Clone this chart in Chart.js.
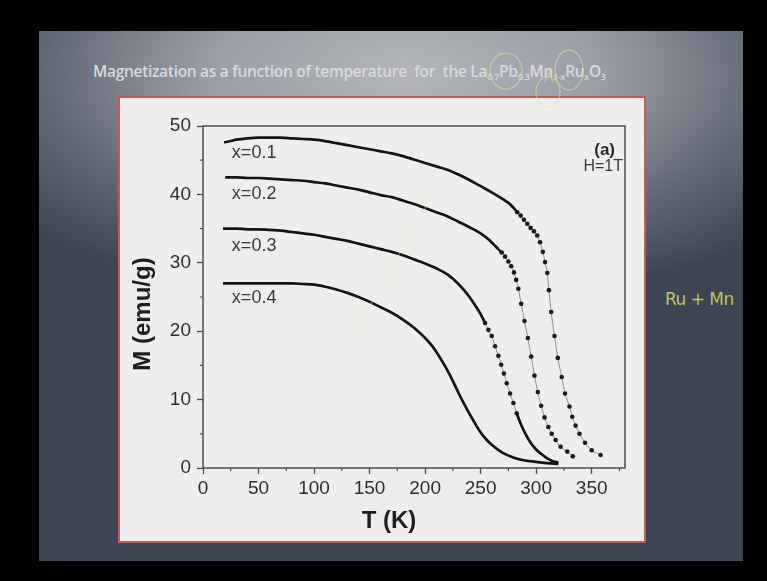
<!DOCTYPE html>
<html>
<head>
<meta charset="UTF-8">
<title>Magnetization vs temperature</title>
<script src="https://cdn.jsdelivr.net/npm/chart.js"></script>
<style>
  html, body { margin: 0; padding: 0; background: #000; width: 767px; height: 581px; overflow: hidden; }
  #slide {
    position: absolute; left: 39px; top: 31px; width: 704px; height: 530px; overflow: hidden;
    background: radial-gradient(ellipse 72% 44% at 52% 8%, #b2b4b8 0%, #9a9ea5 38%, #616775 72%, #3e4555 100%), #3a4151;
  }
  #title {
    position: absolute; left: 54px; top: 29px; white-space: nowrap;
    font-family: "Open Sans", sans-serif; font-weight: 600; font-size: 15.5px; color: #d8dadd;
    letter-spacing: -0.3px;
  }
  #title sub { font-size: 9px; vertical-align: -3px; }
  #panel {
    position: absolute; left: 79px; top: 65px; width: 528px; height: 447px; box-sizing: border-box;
    background: #eeefec; border: 2px solid #c65a55;
  }
  #note {
    position: absolute; left: 626px; top: 258px; white-space: nowrap;
    font-family: "DejaVu Sans", sans-serif; font-size: 17px; color: #b9c65c; letter-spacing: -0.5px;
  }
  canvas, svg { position: absolute; left: 0; top: 0; }
</style>
</head>
<body>
<div id="slide">
  <div id="title">Magnetization as a function of temperature&nbsp; for&nbsp; the La<sub>0.7</sub>Pb<sub>0.3</sub>Mn<sub>1-x</sub>Ru<sub>x</sub>O<sub>3</sub></div>
  <div id="panel"></div>
  <div id="note">Ru + Mn</div>
</div>
<canvas id="magChart" width="767" height="581"></canvas>
<!-- faint pen marks drawn over the slide -->
<svg width="767" height="581" fill="none" stroke="#e4e79a" stroke-width="1.3" opacity="0.5">
  <ellipse cx="506" cy="71" rx="16" ry="18"/>
  <ellipse cx="569" cy="70" rx="14" ry="20"/>
  <ellipse cx="548" cy="92" rx="12" ry="15"/>
  <path d="M545 82 L549 72 L553 82"/>
  <path d="M432 196 L352 338 M352 338 L356 318 M352 338 L372 326" stroke="#e8eac0" opacity="0.8"/>
</svg>

<script>
// data: T in K, M in emu/g
const seriesNames = ['x=0.1', 'x=0.2', 'x=0.3', 'x=0.4'];

const tempX01 = [19, 25, 30, 40, 50, 60, 70, 80, 90, 100, 110, 120, 130, 140, 150, 160, 170, 180, 190, 200, 210, 220, 230, 240, 250, 260, 270,
                 277, 283, 286, 289, 292, 295, 298, 301, 303.5, 306, 308, 310, 311.5, 313.5, 316.5, 319.5, 323, 326, 330, 332.5, 335.5, 339, 344, 350, 358];
const magX01  = [47.6, 47.8, 48.0, 48.2, 48.3, 48.3, 48.3, 48.2, 48.1, 48.0, 47.8, 47.5, 47.2, 46.9, 46.6, 46.3, 46.0, 45.6, 45.1, 44.6, 44.1, 43.6, 42.9, 42.1, 41.2, 40.3, 39.3,
                 38.5, 37.4, 36.9, 36.3, 35.7, 35.1, 34.6, 34.0, 33.0, 31.6, 30.1, 28.5, 26.0, 22.8, 19.3, 16.1, 13.3, 10.9, 9.0, 7.5, 6.2, 5.0, 3.7, 2.6, 1.9];

const tempX02 = [20, 30, 40, 50, 60, 70, 80, 90, 100, 110, 120, 130, 140, 150, 160, 170, 180, 190, 200, 210, 220, 230, 240, 250,
                 258, 264, 269, 272, 275, 277.5, 280, 282, 284, 286.5, 289.5, 292.5, 295.5, 298.5, 301.5, 304.5, 307.5, 311, 314, 317.5, 322, 328, 333];
const magX02  = [42.5, 42.5, 42.4, 42.4, 42.3, 42.2, 42.1, 42.0, 41.8, 41.6, 41.3, 41.0, 40.7, 40.3, 39.9, 39.6, 39.1, 38.6, 38.0, 37.4, 36.8, 36.0, 35.2, 34.3,
                 33.3, 32.3, 31.5, 30.9, 30.2, 29.5, 28.6, 27.5, 26.2, 24.0, 21.5, 19.0, 16.3, 13.5, 11.1, 9.1, 7.4, 6.0, 5.0, 4.1, 3.1, 2.4, 1.7];

const tempX03 = [18, 30, 40, 50, 60, 70, 80, 90, 100, 110, 120, 130, 140, 150, 160, 170, 180, 190, 200, 210, 220, 230, 240,
                 245, 250, 254, 257, 260, 263, 266, 268.5, 271, 273.5, 276.5, 279.5, 282.5, 286, 290, 295, 300, 305, 310, 315, 320];
const magX03  = [35.0, 35.0, 34.9, 34.9, 34.8, 34.7, 34.5, 34.3, 34.1, 33.8, 33.5, 33.2, 32.8, 32.4, 32.0, 31.6, 31.1, 30.5, 29.9, 29.2, 28.3, 26.9, 25.0,
                 23.8, 22.5, 21.2, 20.2, 19.3, 17.8, 16.4, 15.1, 13.8, 12.4, 10.9, 9.5, 8.0, 6.5, 5.1, 3.7, 2.7, 2.0, 1.4, 1.0, 0.8];

const tempX04 = [18, 30, 40, 50, 60, 70, 80, 90, 100, 110, 120, 130, 140, 150, 160, 170, 180, 190, 200,
                 205, 210, 215, 220, 225, 230, 235, 240, 245, 250, 255, 260, 270, 280, 290, 300, 310, 320];
const magX04  = [27.0, 27.0, 27.0, 27.0, 27.0, 27.0, 27.0, 26.9, 26.8, 26.5, 26.1, 25.6, 25.0, 24.3, 23.5, 22.7, 21.7, 20.5, 19.0,
                 18.1, 17.0, 15.7, 14.3, 12.7, 11.0, 9.4, 7.9, 6.5, 5.2, 4.2, 3.4, 2.2, 1.5, 1.1, 0.9, 0.7, 0.6];

const xTicks = [0, 50, 100, 150, 200, 250, 300, 350];
const yTicks = [0, 10, 20, 30, 40, 50];
const xMinor = [25, 75, 125, 175, 225, 275, 325, 375];
const yMinor = [5, 15, 25, 35, 45];

// T ranges where the measured points are far apart and show up as dots
const sparseRanges = [[282, 361], [266, 340], [252, 284], null];

function makeSeries(temps, mags, i) {
    const range = sparseRanges[i];
    const sparse = t => range && t >= range[0] && t <= range[1];
    return {
        label: seriesNames[i],
        data: temps.map((t, k) => ({ x: t, y: mags[k] })),
        showLine: true,
        borderColor: '#141414',
        backgroundColor: '#1c1c1c',
        borderWidth: 2.7,
        cubicInterpolationMode: 'monotone',
        pointRadius: ctx => (ctx.raw && sparse(ctx.raw.x)) ? 2.3 : 0,
        pointBorderWidth: 0,
        segment: {
            borderWidth: ctx => (sparse(ctx.p0.parsed.x) && sparse(ctx.p1.parsed.x)) ? 0.8 : 2.7,
            borderColor: ctx => (sparse(ctx.p0.parsed.x) && sparse(ctx.p1.parsed.x)) ? '#7a7a7a' : '#141414'
        }
    };
}

const decor = {
    id: 'decor',
    afterDraw(chart) {
        const ctx = chart.ctx, a = chart.chartArea;
        const xs = chart.scales.x, ys = chart.scales.y;
        ctx.save();
        // frame
        ctx.strokeStyle = '#4d4d4d';
        ctx.lineWidth = 1.5;
        ctx.strokeRect(a.left, a.top, a.right - a.left, a.bottom - a.top);
        // minor ticks
        ctx.lineWidth = 1.2;
        ctx.beginPath();
        xMinor.forEach(v => { const p = xs.getPixelForValue(v); ctx.moveTo(p, a.bottom); ctx.lineTo(p, a.bottom + 3); });
        yMinor.forEach(v => { const p = ys.getPixelForValue(v); ctx.moveTo(a.left - 3, p); ctx.lineTo(a.left, p); });
        ctx.stroke();

        // axis titles
        ctx.fillStyle = '#1e1e1e';
        ctx.font = 'bold 24px "Liberation Sans", Arial, sans-serif';
        ctx.textAlign = 'center';
        ctx.textBaseline = 'middle';
        ctx.fillText('T (K)', 389, 521);
        ctx.translate(143, 314);
        ctx.rotate(-Math.PI / 2);
        ctx.fillText('M (emu/g)', 0, 0);
        ctx.setTransform(1, 0, 0, 1, 0, 0);

        // series labels
        const labelAt = [[26, 46.0], [26, 40.0], [26, 32.4], [26, 24.8]];
        ctx.font = '18px "Liberation Sans", Arial, sans-serif';
        ctx.fillStyle = '#383838';
        ctx.textAlign = 'left';
        seriesNames.forEach((n, i) => {
            ctx.fillText(n, xs.getPixelForValue(labelAt[i][0]), ys.getPixelForValue(labelAt[i][1]));
        });

        // panel tag
        ctx.textAlign = 'right';
        ctx.font = 'bold 17px "Liberation Sans", Arial, sans-serif';
        ctx.fillStyle = '#2a2a2a';
        ctx.fillText('(a)', 615, 150);
        ctx.font = '16px "Liberation Sans", Arial, sans-serif';
        ctx.fillStyle = '#3a3a3a';
        ctx.fillText('H=1T', 623, 167);
        ctx.restore();
    }
};

const tickFont = { family: '"Liberation Sans", Arial, sans-serif', size: 19 };

new Chart(document.getElementById('magChart').getContext('2d'), {
    type: 'scatter',
    data: {
        datasets: [
            makeSeries(tempX01, magX01, 0),
            makeSeries(tempX02, magX02, 1),
            makeSeries(tempX03, magX03, 2),
            makeSeries(tempX04, magX04, 3)
        ]
    },
    options: {
        responsive: false,
        animation: false,
        devicePixelRatio: 1,
        layout: { padding: { left: 0, top: 126, right: 142, bottom: 0 } },
        plugins: { legend: { display: false }, tooltip: { enabled: false } },
        scales: {
            x: {
                type: 'linear', min: 0, max: 380,
                afterBuildTicks: s => { s.ticks = xTicks.map(v => ({ value: v })); },
                afterFit: s => { s.height = 113; },
                ticks: { font: tickFont, color: '#2e2e2e', padding: 3, maxRotation: 0 },
                grid: { drawOnChartArea: false, tickLength: 6, tickColor: '#4d4d4d', tickWidth: 1.3 },
                border: { display: false }
            },
            y: {
                type: 'linear', min: 0, max: 50,
                afterBuildTicks: s => { s.ticks = yTicks.map(v => ({ value: v })); },
                afterFit: s => { s.width = 203; },
                ticks: { font: tickFont, color: '#2e2e2e', padding: 6 },
                grid: { drawOnChartArea: false, tickLength: 6, tickColor: '#4d4d4d', tickWidth: 1.3 },
                border: { display: false }
            }
        }
    },
    plugins: [decor]
});
</script>
</body>
</html>
